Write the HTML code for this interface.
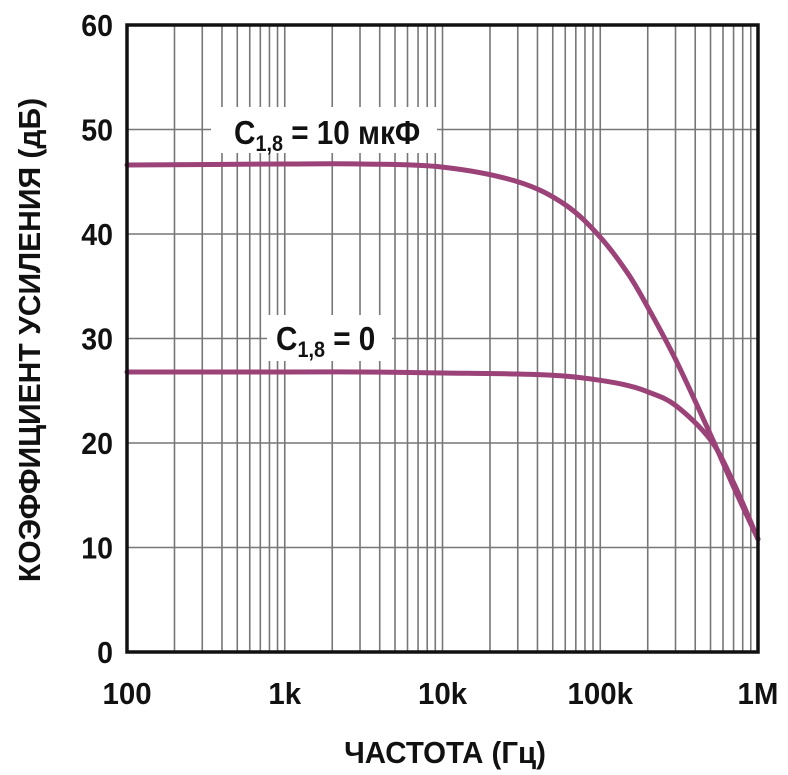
<!DOCTYPE html>
<html><head><meta charset="utf-8"><style>
html,body{margin:0;padding:0;background:#fff;width:788px;height:775px;overflow:hidden}
text{font-family:"Liberation Sans",Arial,sans-serif;font-weight:bold;fill:#111}
</style></head><body>
<svg id="chart" width="788" height="775" viewBox="0 0 788 775" xmlns="http://www.w3.org/2000/svg">
<g id="grid"></g>
<g id="curves"></g>
<g id="labels"></g>
<rect x="127" y="25" width="631" height="627" fill="none" stroke="#111" stroke-width="3.5"/>
<g id="ticks"></g>
<text x="0" y="0" text-anchor="middle" font-size="31" transform="translate(445 763) scale(0.95 1)">ЧАСТОТА (Гц)</text>
<text x="0" y="0" text-anchor="middle" font-size="31" transform="translate(40 340) rotate(-90) scale(0.97 1)">КОЭФФИЦИЕНТ УСИЛЕНИЯ (дБ)</text>
</svg>
<script>
const yTicks=[0,10,20,30,40,50,60];
const xTickVals=[100,1000,10000,100000,1000000];
const xTickLabels=["100","1k","10k","100k","1M"];
const freqs=[100,1000,3000,10000,30000,60000,100000,150000,200000,300000,500000,700000,1000000];
const gain10uF=[46.6,46.7,46.7,46.4,45.0,42.8,39.7,36.2,33.0,28.0,20.8,15.8,10.8];
const gain0=[26.8,26.8,26.8,26.7,26.6,26.4,26.0,25.5,24.9,23.6,20.3,16.2,10.8];
const NS="http://www.w3.org/2000/svg";
const X0=127,X1=758,Y0=652,Y1=25;
function xs(f){return X0+(Math.log10(f)-2)/4*(X1-X0);}
function ys(v){return Y0-v/60*(Y0-Y1);}
function mk(tag,attrs,parent){const e=document.createElementNS(NS,tag);for(const k in attrs)e.setAttribute(k,attrs[k]);parent.appendChild(e);return e;}
const grid=document.getElementById('grid');
for(let d=2;d<6;d++){for(let m=2;m<=9;m++){const x=xs(m*Math.pow(10,d));
const l=mk('line',{x1:x,x2:x,y1:Y1,y2:Y0,stroke:'#777','stroke-width':1.6},grid);

}}
for(const f of xTickVals.slice(1,4)){const x=xs(f);const l=mk('line',{x1:x,x2:x,y1:Y1,y2:Y0,stroke:'#777','stroke-width':1.6},grid);

}
for(const v of yTicks){const y=ys(v);const l=mk('line',{x1:X0,x2:X1,y1:y,y2:y,stroke:'#777','stroke-width':1.6},grid);

}
const curves=document.getElementById('curves');
function path(vals){const pts=freqs.map((f,i)=>[xs(f),ys(vals[i])]);
let d='M'+pts[0][0]+','+pts[0][1];
for(let i=0;i<pts.length-1;i++){const p0=pts[i-1]||pts[i],p1=pts[i],p2=pts[i+1],p3=pts[i+2]||p2;
d+=' C'+(p1[0]+(p2[0]-p0[0])/6)+','+(p1[1]+(p2[1]-p0[1])/6)+' '+(p2[0]-(p3[0]-p1[0])/6)+','+(p2[1]-(p3[1]-p1[1])/6)+' '+p2[0]+','+p2[1];}
return d;}
const c1=mk('path',{d:path(gain10uF),fill:'none',stroke:'#9b4278','stroke-width':5,'stroke-linecap':'round'},curves);


const c2=mk('path',{d:path(gain0),fill:'none',stroke:'#9b4278','stroke-width':5,'stroke-linecap':'round'},curves);


const labels=document.getElementById('labels');
labels.innerHTML='<rect x="211" y="107" width="226" height="46" fill="#fff"/>'+
'<text font-size="33" transform="translate(234 144) scale(0.9 1)">C<tspan font-size="22" dy="7">1,8</tspan><tspan dy="-7"> = 10 мкФ</tspan></text>'+
'<rect x="267" y="315" width="125" height="46" fill="#fff"/>'+
'<text font-size="33" transform="translate(276 350) scale(0.9 1)">C<tspan font-size="22" dy="7">1,8</tspan><tspan dy="-7"> = 0</tspan></text>';
const ticks=document.getElementById('ticks');
for(const v of yTicks){const t=mk('text',{x:0,y:0,'text-anchor':'end','font-size':31,transform:'translate(113 '+(ys(v)+11)+') scale(0.92 1)'},ticks);t.textContent=v;

}
xTickVals.forEach((f,i)=>{const t=mk('text',{x:0,y:0,'text-anchor':'middle','font-size':31,transform:'translate('+xs(f)+' 704) scale(0.95 1)'},ticks);t.textContent=xTickLabels[i];

});
</script>
</body></html>
